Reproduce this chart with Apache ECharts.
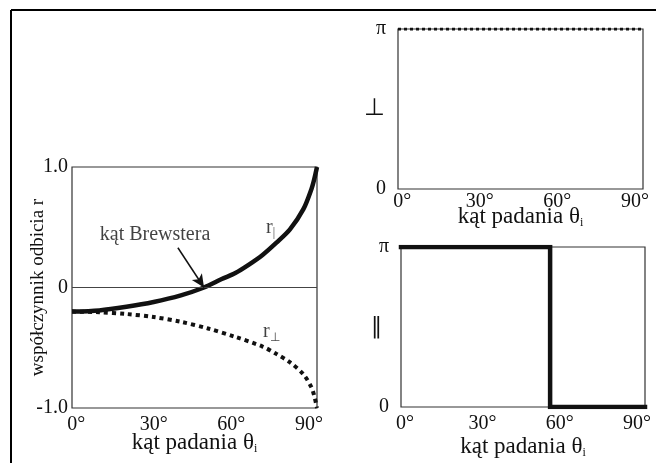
<!DOCTYPE html>
<html>
<head>
<meta charset="utf-8">
<script src="https://cdn.jsdelivr.net/npm/echarts@6/dist/echarts.min.js"></script>
<style>
html,body{margin:0;padding:0;background:#fff;}
#c{width:656px;height:463px;}
</style>
</head>
<body>
<div id="c"></div>
<script>
// ---- data ----
const xTicks = [0, 30, 60, 90];
const parAngles = [0, 10, 20, 30, 40, 48.5, 55, 60, 65, 70, 75, 80, 85, 88, 89, 90];
const rPar = [-0.2, -0.19, -0.16, -0.12, -0.065, 0, 0.07, 0.12, 0.19, 0.27, 0.37, 0.48, 0.65, 0.82, 0.9, 1.0];
const perpAngles = [0, 10, 20, 30, 40, 50, 60, 70, 75, 80, 85, 88, 89, 90];
const rPerp = [-0.2, -0.205, -0.22, -0.245, -0.285, -0.34, -0.41, -0.49, -0.55, -0.62, -0.72, -0.83, -0.9, -1.0];
const PI = Math.PI;
const phasePerpAngles = [0, 90];
const phasePerp = [PI, PI];
const phaseParAngles = [0, 55, 55, 90];
const phasePar = [PI, PI, 0, 0];
const brewsterAngle = 48.5;
const arrowStart = [38.9, 0.33];
const annotations = [
  { text: 'kąt Brewstera', x: 30.5, y: 0.44, align: 'center' },
  { text: 'r{s||}', x: 71.3, y: 0.5, align: 'left' },
  { text: 'r{s|⊥}', x: 70.2, y: -0.37, align: 'left' }
];
const xTitle = 'kąt padania θ{s|i}';
const yTitle = 'współczynnik odbicia r';

const FONT = "'Liberation Serif','Times New Roman',serif";
const zip = (a, b) => a.map((v, i) => [v, b[i]]);
const rich = { s: { fontSize: 12, fontFamily: FONT, color: '#111', padding: [12, 0, 0, 0] } };

const chart = echarts.init(document.getElementById('c'), null, { renderer: 'canvas' });

const grids = [
  { left: 72, top: 167, width: 245, height: 241 },
  { left: 398, top: 29, width: 245, height: 160 },
  { left: 401, top: 247, width: 244, height: 160 }
].map(g => Object.assign(g, { show: true, borderColor: '#333', borderWidth: 1.2, backgroundColor: 'transparent' }));

function mainX(gi) {
  return { type: 'value', gridIndex: gi, min: 0, max: 90, show: true,
    axisLine: { show: false }, axisTick: { show: false }, axisLabel: { show: false }, splitLine: { show: false } };
}
function labelX(gi, margin, gap) {
  return { type: 'value', gridIndex: gi, min: -1.6, max: 93.1, position: 'bottom',
    axisLine: { show: false }, axisTick: { show: false }, splitLine: { show: false },
    axisLabel: { customValues: xTicks, margin: margin, fontSize: 20, fontFamily: FONT, color: '#111',
      formatter: v => v + '°' },
    name: xTitle, nameLocation: 'middle', nameGap: gap, nameMoveOverlap: false,
    nameTextStyle: { fontSize: 23, fontFamily: FONT, color: '#111', rich: rich, verticalAlign: 'top' } };
}
function phaseY(gi, sym, size, gap, family) {
  return { type: 'value', gridIndex: gi, min: 0, max: PI, interval: PI,
    axisLine: { show: false }, axisTick: { show: false }, splitLine: { show: false },
    axisLabel: { margin: 12, fontSize: 20, fontFamily: FONT, color: '#111',
      formatter: v => (v === 0 ? '0' : 'π') },
    name: sym, nameLocation: 'middle', nameRotate: 0, nameGap: gap, nameMoveOverlap: false,
    nameTextStyle: { fontSize: size, fontFamily: family, color: '#111' } };
}

const option = {
  animation: false,
  backgroundColor: '#fff',
  grid: grids,
  xAxis: [mainX(0), mainX(1), mainX(2), labelX(0, 7, 23), labelX(1, 3, 16), labelX(2, 7, 28)],
  yAxis: [
    { type: 'value', gridIndex: 0, min: -1, max: 1, interval: 1,
      axisLine: { show: false }, axisTick: { show: false }, splitLine: { show: false },
      axisLabel: { margin: 4, fontSize: 20, fontFamily: FONT, color: '#111',
        formatter: v => (v === 0 ? '0' : v.toFixed(1)) },
      name: yTitle, nameLocation: 'middle', nameGap: 24, nameMoveOverlap: false,
      nameTextStyle: { fontSize: 19, fontFamily: FONT, color: '#111' } },
    phaseY(1, '⊥', 24, 13, FONT),
    phaseY(2, '‖', 22, 19, "'DejaVu Serif', serif")
  ],
  graphic: [
    { type: 'line', shape: { x1: 11, y1: 10, x2: 656, y2: 10 }, style: { stroke: '#000', lineWidth: 2 } },
    { type: 'line', shape: { x1: 11, y1: 10, x2: 11, y2: 463 }, style: { stroke: '#000', lineWidth: 2 } }
  ],
  series: [
    { type: 'line', name: 'r_perp', xAxisIndex: 0, yAxisIndex: 0, data: zip(perpAngles, rPerp),
      smooth: 0.3, showSymbol: false,
      lineStyle: { color: '#111', width: 4, type: [4, 4] } },
    { type: 'line', name: 'r_par', xAxisIndex: 0, yAxisIndex: 0, data: zip(parAngles, rPar),
      smooth: 0.3, showSymbol: false,
      lineStyle: { color: '#111', width: 4.5 },
      markLine: { silent: true, symbol: 'none', label: { show: false },
        lineStyle: { color: '#444', width: 1, type: 'solid' },
        data: [ { yAxis: 0 },
          [ { coord: arrowStart, symbol: 'none' },
            { coord: [brewsterAngle, 0], symbol: 'arrow', symbolSize: [9, 13],
              lineStyle: { color: '#111', width: 1.5 } } ] ] } },
    { type: 'scatter', xAxisIndex: 0, yAxisIndex: 0, symbolSize: 0, silent: true,
      data: annotations.map(a => ({ value: [a.x, a.y],
        label: { show: true, position: 'inside', formatter: a.text, align: a.align, verticalAlign: 'middle',
          fontSize: 20, fontFamily: FONT, color: '#111', rich: rich } })) },
    { type: 'line', name: 'phase_perp', xAxisIndex: 1, yAxisIndex: 1, data: zip(phasePerpAngles, phasePerp),
      showSymbol: false, lineStyle: { color: '#111', width: 3, type: [3, 3] } },
    { type: 'line', name: 'phase_par', xAxisIndex: 2, yAxisIndex: 2, data: zip(phaseParAngles, phasePar),
      showSymbol: false, lineStyle: { color: '#111', width: 4.5, cap: 'square', join: 'miter' } }
  ]
};
chart.setOption(option);
</script>
</body>
</html>
